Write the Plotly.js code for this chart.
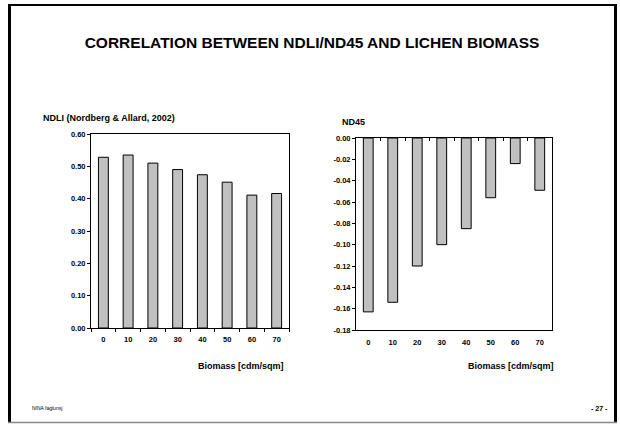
<!DOCTYPE html>
<html>
<head>
<meta charset="utf-8">
<script src="https://cdn.plot.ly/plotly-3.0.1.min.js"></script>
<style>html,body{margin:0;padding:0;background:#fff;}#chart{width:620px;height:426px;}</style>
</head>
<body>
<div id="chart"></div>
<script>
// ---- data ----
const biomass = ["0", "10", "20", "30", "40", "50", "60", "70"];
const ndli = [0.528, 0.535, 0.510, 0.490, 0.474, 0.451, 0.411, 0.416];
const nd45 = [-0.163, -0.154, -0.120, -0.100, -0.085, -0.056, -0.024, -0.049];
const ndliTickVals = [0, 0.1, 0.2, 0.3, 0.4, 0.5, 0.6];
const ndliTickText = ["0.00", "0.10", "0.20", "0.30", "0.40", "0.50", "0.60"];
const nd45TickVals = [0, -0.02, -0.04, -0.06, -0.08, -0.10, -0.12, -0.14, -0.16, -0.18];
const nd45TickText = ["0.00", "-0.02", "-0.04", "-0.06", "-0.08", "-0.10", "-0.12", "-0.14", "-0.16", "-0.18"];
const mainTitle = "CORRELATION BETWEEN NDLI/ND45 AND LICHEN BIOMASS";
const leftTitle = "NDLI (Nordberg &amp; Allard, 2002)";
const rightTitle = "ND45";
const xTitle = "Biomass [cdm/sqm]";
const footerLeft = "NINA faglunsj";
const footerRight = "- 27 -";

// ---- layout helpers ----
const W = 620, H = 426;
const px = v => v / W;
const py = v => 1 - v / H;
const FONT = "Liberation Sans, Arial, sans-serif";
const tickFont = {family: FONT, size: 7.5, color: "#000", weight: "bold"};
const labFont = {family: FONT, size: 9, color: "#000", weight: "bold"};

const barStyle = {color: "#c0c0c0", line: {color: "#000", width: 1}};

// category boundary positions for the tick marks on the zero line of the right chart
const boundaryTicks = biomass.map((_, i) => i - 0.5).concat([biomass.length - 0.5]);

const traces = [
  {type: "bar", x: biomass, y: ndli, xaxis: "x", yaxis: "y", marker: barStyle, hoverinfo: "skip"},
  {type: "bar", x: biomass, y: nd45, xaxis: "x2", yaxis: "y2", marker: barStyle, hoverinfo: "skip"},
  // invisible carrier for the bottom label axis of the right chart
  {type: "bar", x: biomass, y: nd45, xaxis: "x3", yaxis: "y2",
   marker: {opacity: 0}, hoverinfo: "skip"}
];

const axLine = {showline: true, linecolor: "#000", linewidth: 1, mirror: true, showgrid: false, zeroline: false};

const layout = {
  width: W, height: H,
  margin: {l: 0, r: 0, t: 0, b: 0},
  paper_bgcolor: "#fff", plot_bgcolor: "#fff",
  showlegend: false,
  bargap: 0.6,
  barmode: "overlay",
  font: {family: FONT, color: "#000"},
  title: {text: mainTitle, x: px(312), xanchor: "center", y: py(43), yanchor: "middle",
          font: {family: FONT, size: 15.5, color: "#000", weight: "bold"}},
  xaxis: Object.assign({}, axLine, {domain: [px(91), px(289)], anchor: "y", type: "category",
          ticks: "outside", tickson: "boundaries", ticklen: 3, tickcolor: "#000", tickfont: tickFont,
          ticklabelstandoff: 4}),
  yaxis: Object.assign({}, axLine, {domain: [py(328), py(134)], anchor: "x", range: [0, 0.6],
          tickvals: ndliTickVals, ticktext: ndliTickText, ticks: "outside", ticklen: 3, tickcolor: "#000",
          tickfont: tickFont}),
  // right chart: main x axis on the zero line at the top, tick marks pointing down
  xaxis2: Object.assign({}, axLine, {domain: [px(356), px(552)], anchor: "y2", side: "top", type: "category",
          tickmode: "array", tickvals: boundaryTicks, ticktext: boundaryTicks.map(() => ""),
          ticks: "inside", ticklen: 3, tickwidth: 1, tickcolor: "#000", showticklabels: false}),
  // overlay axis carrying the category labels at the bottom
  xaxis3: {overlaying: "x2", anchor: "y2", side: "bottom", type: "category",
          showline: false, showgrid: false, zeroline: false, ticks: "",
          tickfont: tickFont, ticklabelstandoff: 6},
  yaxis2: Object.assign({}, axLine, {domain: [py(330), py(138)], anchor: "x2", range: [-0.18, 0],
          tickvals: nd45TickVals, ticktext: nd45TickText, ticks: "outside", ticklen: 3, tickcolor: "#000",
          tickfont: tickFont}),
  annotations: [
    {text: leftTitle, xref: "paper", yref: "paper", x: px(41), y: py(118), xanchor: "left", yanchor: "middle", showarrow: false, font: labFont},
    {text: rightTitle, xref: "paper", yref: "paper", x: px(340), y: py(122), xanchor: "left", yanchor: "middle", showarrow: false, font: labFont},
    {text: xTitle, xref: "paper", yref: "paper", x: px(286), y: py(366), xanchor: "right", yanchor: "middle", showarrow: false, font: labFont},
    {text: xTitle, xref: "paper", yref: "paper", x: px(556), y: py(366), xanchor: "right", yanchor: "middle", showarrow: false, font: labFont},
    {text: footerLeft, xref: "paper", yref: "paper", x: px(30), y: py(408), xanchor: "left", yanchor: "middle", showarrow: false,
     font: {family: FONT, size: 5, color: "#000"}},
    {text: footerRight, xref: "paper", yref: "paper", x: px(610), y: py(408), xanchor: "right", yanchor: "middle", showarrow: false,
     font: {family: FONT, size: 7, color: "#000", weight: "bold"}}
  ],
  shapes: [
    {type: "line", xref: "paper", yref: "paper", x0: px(8), x1: px(617), y0: py(5), y1: py(5), line: {color: "#000", width: 2}},
    {type: "line", xref: "paper", yref: "paper", x0: px(9.5), x1: px(9.5), y0: py(4), y1: py(422), line: {color: "#000", width: 3}},
    {type: "line", xref: "paper", yref: "paper", x0: px(615.5), x1: px(615.5), y0: py(4), y1: py(422), line: {color: "#000", width: 3}},
    {type: "line", xref: "paper", yref: "paper", x0: px(8), x1: px(617), y0: py(422.5), y1: py(422.5), line: {color: "#888", width: 1.5}}
  ]
};

Plotly.newPlot("chart", traces, layout, {staticPlot: true, displayModeBar: false});
</script>
</body>
</html>
